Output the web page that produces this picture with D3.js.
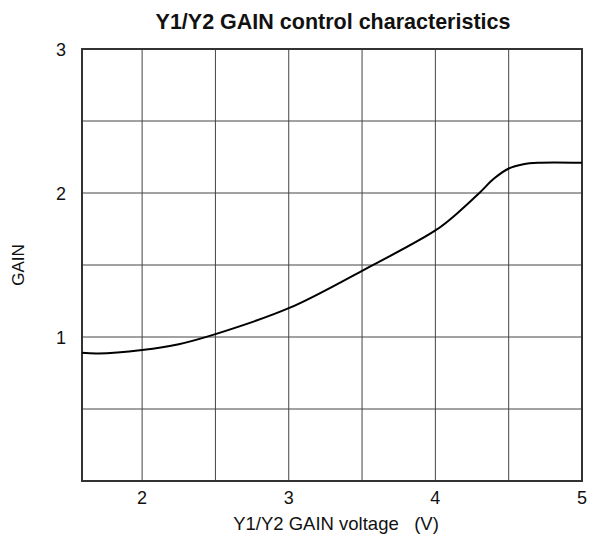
<!DOCTYPE html>
<html>
<head>
<meta charset="utf-8">
<script src="https://cdn.jsdelivr.net/npm/d3@7"></script>
<style>
  body { margin: 0; background: #fff; }
  text { font-family: "Liberation Sans", Arial, sans-serif; fill: #111; }
</style>
</head>
<body>
<div id="chart"></div>
<script>
// Data
var voltage = [1.59, 1.7, 2.0, 2.25, 2.5, 3.0, 3.5, 4.0, 4.15, 4.3, 4.4, 4.5, 4.6, 4.7, 5.0];
var gain    = [0.89, 0.885, 0.91, 0.95, 1.02, 1.20, 1.46, 1.74, 1.86, 2.0, 2.1, 2.17, 2.2, 2.21, 2.21];

var xTickLabels = [2, 3, 4, 5];
var yTickLabels = [1, 2, 3];
var xGrid = [2, 2.5, 3, 3.5, 4, 4.5];
var yGrid = [0.5, 1, 1.5, 2, 2.5];

var width = 593, height = 546;
var margin = { top: 49, right: 11, bottom: 65, left: 82 };

var svg = d3.select("#chart").append("svg")
    .attr("width", width)
    .attr("height", height);

// Scales
var x = d3.scaleLinear().domain([1.59, 5]).range([margin.left, width - margin.right]);
var y = d3.scaleLinear().domain([0, 3]).range([height - margin.bottom, margin.top]);

// Grid lines
svg.selectAll(".vgrid").data(xGrid).enter().append("line")
    .attr("class", "vgrid")
    .attr("x1", function (d) { return x(d); })
    .attr("x2", function (d) { return x(d); })
    .attr("y1", y(0)).attr("y2", y(3))
    .attr("stroke", "#444").attr("stroke-width", 1);

svg.selectAll(".hgrid").data(yGrid).enter().append("line")
    .attr("class", "hgrid")
    .attr("y1", function (d) { return y(d); })
    .attr("y2", function (d) { return y(d); })
    .attr("x1", x(1.59)).attr("x2", x(5))
    .attr("stroke", "#444").attr("stroke-width", 1);

// Frame
svg.append("rect")
    .attr("x", x(1.59)).attr("y", y(3))
    .attr("width", x(5) - x(1.59)).attr("height", y(0) - y(3))
    .attr("fill", "none")
    .attr("stroke", "#333").attr("stroke-width", 2);

// Curve
var line = d3.line()
    .x(function (d, i) { return x(voltage[i]); })
    .y(function (d) { return y(d); })
    .curve(d3.curveCatmullRom.alpha(0.5));

svg.append("path")
    .datum(gain)
    .attr("d", line)
    .attr("fill", "none")
    .attr("stroke", "#000")
    .attr("stroke-width", 2);

// Tick labels
svg.selectAll(".xtick").data(xTickLabels).enter().append("text")
    .attr("class", "xtick")
    .attr("x", function (d) { return x(d); })
    .attr("y", y(0) + 23)
    .attr("text-anchor", "middle")
    .style("font-size", "18px")
    .text(function (d) { return d; });

svg.selectAll(".ytick").data(yTickLabels).enter().append("text")
    .attr("class", "ytick")
    .attr("x", 66)
    .attr("y", function (d) { return y(d) + 7; })
    .attr("text-anchor", "end")
    .style("font-size", "18px")
    .text(function (d) { return d; });

// Title and axis labels
svg.append("text")
    .attr("x", 333).attr("y", 29)
    .attr("text-anchor", "middle")
    .style("font-size", "21.5px")
    .style("font-weight", "bold")
    .text("Y1/Y2 GAIN control characteristics");

svg.append("text")
    .attr("x", 336).attr("y", 530)
    .attr("text-anchor", "middle")
    .style("font-size", "18.5px")
    .style("white-space", "pre")
    .attr("xml:space", "preserve")
    .text("Y1/Y2 GAIN voltage   (V)");

svg.append("text")
    .attr("transform", "translate(24," + y(1.5) + ") rotate(-90)")
    .attr("text-anchor", "middle")
    .style("font-size", "17px")
    .text("GAIN");
</script>
</body>
</html>
